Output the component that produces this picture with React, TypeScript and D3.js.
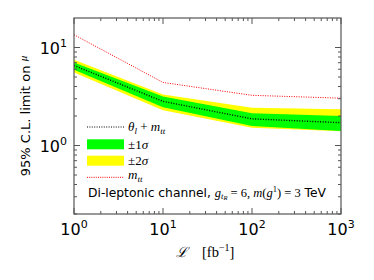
import React from "react";
import * as d3 from "d3";

// integrated luminosity points (fb^-1)
const lumi = [1, 10, 100, 1000];
// expected limit, theta_l + m_tt
const expected = [6.55, 2.82, 1.87, 1.71];
const sigma1Up = [7.05, 3.16, 2.13, 2.0];
const sigma1Down = [5.94, 2.45, 1.58, 1.41];
const sigma2Up = [7.5, 3.32, 2.43, 2.34];
const sigma2Down = [5.55, 2.29, 1.52, 1.4];
// m_tt only
const mttOnly = [13.5, 4.4, 3.25, 3.04];

const xMajor = [1, 10, 100, 1000];
const yMajor = [1, 10];

const W = 374;
const H = 280;
const margin = { left: 74, right: 33, top: 18, bottom: 66 };

const sans = "DejaVu Sans, sans-serif";
const serif = "Liberation Serif, DejaVu Serif, serif";
const axisColor = "#555";

const App = () => {
  const x = d3.scaleLog().domain([1, 1000]).range([margin.left, W - margin.right]);
  const y = d3.scaleLog().domain([0.2, 20]).range([H - margin.bottom, margin.top]);
  const [x0, x1] = x.range();
  const [y0, y1] = y.range();

  const rows = lumi.map((l, i) => ({
    l,
    exp: expected[i],
    s1u: sigma1Up[i],
    s1d: sigma1Down[i],
    s2u: sigma2Up[i],
    s2d: sigma2Down[i],
    mtt: mttOnly[i],
  }));

  const band = (lo: string, hi: string) =>
    d3
      .area<any>()
      .x((d) => x(d.l))
      .y0((d) => y(d[lo]))
      .y1((d) => y(d[hi]))(rows) || "";
  const line = (k: string) =>
    d3
      .line<any>()
      .x((d) => x(d.l))
      .y((d) => y(d[k]))(rows) || "";

  // minor ticks
  const xMinor: number[] = [];
  [1, 10, 100].forEach((dec) => {
    for (let k = 2; k <= 9; k++) xMinor.push(dec * k);
  });
  const yMinor: number[] = [];
  [0.1, 1, 10].forEach((dec) => {
    for (let k = 2; k <= 9; k++) {
      const v = dec * k;
      if (v >= 0.2 && v < 20) yMinor.push(v);
    }
  });

  const legendX = 87;
  const legendRows = [127, 144.3, 160.7, 177.3];

  return (
    <svg
      width={W}
      height={H}
      style={{ position: "fixed", left: 0, top: 0, background: "#fff" }}
    >
      <defs>
        <clipPath id="plot">
          <rect x={x0} y={y1} width={x1 - x0} height={y0 - y1} />
        </clipPath>
      </defs>

      <g clipPath="url(#plot)">
        <path d={band("s2d", "s2u")} fill="#ffff00" />
        <path d={band("s1d", "s1u")} fill="#00ff00" />
        <path d={line("exp")} fill="none" stroke="#000" strokeWidth={1.4} strokeDasharray="1,1.6" />
        <path d={line("mtt")} fill="none" stroke="#ff0000" strokeWidth={1} strokeDasharray="1,1.4" />
      </g>

      {/* ticks, inside on all four sides */}
      {xMajor.map((v) => (
        <g key={"xM" + v}>
          <line x1={x(v)} x2={x(v)} y1={y0} y2={y0 - 6} stroke={axisColor} />
          <line x1={x(v)} x2={x(v)} y1={y1} y2={y1 + 6} stroke={axisColor} />
        </g>
      ))}
      {xMinor.map((v) => (
        <g key={"xm" + v}>
          <line x1={x(v)} x2={x(v)} y1={y0} y2={y0 - 3} stroke={axisColor} />
          <line x1={x(v)} x2={x(v)} y1={y1} y2={y1 + 3} stroke={axisColor} />
        </g>
      ))}
      {yMajor.map((v) => (
        <g key={"yM" + v}>
          <line x1={x0} x2={x0 + 6} y1={y(v)} y2={y(v)} stroke={axisColor} />
          <line x1={x1} x2={x1 - 6} y1={y(v)} y2={y(v)} stroke={axisColor} />
        </g>
      ))}
      {yMinor.map((v) => (
        <g key={"ym" + v}>
          <line x1={x0} x2={x0 + 3} y1={y(v)} y2={y(v)} stroke={axisColor} />
          <line x1={x1} x2={x1 - 3} y1={y(v)} y2={y(v)} stroke={axisColor} />
        </g>
      ))}

      <rect
        x={x0}
        y={y1}
        width={x1 - x0}
        height={y0 - y1}
        fill="none"
        stroke={axisColor}
        strokeWidth={1.2}
      />

      {/* tick labels */}
      {xMajor.map((v) => (
        <text key={"xl" + v} x={x(v)} y={y0 + 21} textAnchor="middle" fontFamily={sans} fontSize={16}>
          10
          <tspan fontSize={11} dy={-7}>
            {Math.round(Math.log10(v))}
          </tspan>
        </text>
      ))}
      {yMajor.map((v) => (
        <text key={"yl" + v} x={x0 - 7} y={y(v) + 6} textAnchor="end" fontFamily={sans} fontSize={16}>
          10
          <tspan fontSize={11} dy={-7}>
            {Math.round(Math.log10(v))}
          </tspan>
        </text>
      ))}

      {/* axis titles */}
      <text
        transform={`translate(30,${(y0 + y1) / 2}) rotate(-90)`}
        textAnchor="middle"
        fontFamily={sans}
        fontSize={13}
      >
        95% C.L. limit on <tspan fontFamily={serif} fontStyle="italic" fontSize={11} dy={-3}>μ</tspan>
      </text>
      <text x={176} y={257} fontFamily="DejaVu Serif, serif" fontSize={14} fontStyle="italic">
        ℒ
      </text>
      <text x={202} y={257} fontFamily={serif} fontSize={14.5}>
        [fb<tspan fontSize={10} dy={-6}>−1</tspan>
        <tspan dy={6}>]</tspan>
      </text>

      {/* legend */}
      <line x1={legendX} x2={legendX + 37} y1={legendRows[0]} y2={legendRows[0]} stroke="#000" strokeWidth={1.2} strokeDasharray="1,1.4" />
      <text x={legendX + 41} y={legendRows[0] + 4} fontFamily={serif} fontSize={13}>
        <tspan fontStyle="italic">θ</tspan>
        <tspan fontStyle="italic" fontSize={9} dy={3}>l</tspan>
        <tspan dy={-3}> + </tspan>
        <tspan fontStyle="italic">m</tspan>
        <tspan fontStyle="italic" fontSize={9} dy={3}>tt</tspan>
      </text>
      <rect x={legendX} y={legendRows[1] - 5} width={37} height={10} fill="#00ff00" />
      <text x={legendX + 41} y={legendRows[1] + 4.5} fontFamily={serif} fontSize={13}>
        ±1<tspan fontStyle="italic">σ</tspan>
      </text>
      <rect x={legendX} y={legendRows[2] - 5} width={37} height={10} fill="#ffff00" />
      <text x={legendX + 41} y={legendRows[2] + 4.5} fontFamily={serif} fontSize={13}>
        ±2<tspan fontStyle="italic">σ</tspan>
      </text>
      <line x1={legendX} x2={legendX + 37} y1={legendRows[3]} y2={legendRows[3]} stroke="#ff0000" strokeWidth={1} strokeDasharray="1,1.2" />
      <text x={legendX + 41} y={legendRows[3] + 2} fontFamily={serif} fontSize={13}>
        <tspan fontStyle="italic">m</tspan>
        <tspan fontStyle="italic" fontSize={9} dy={3}>tt</tspan>
      </text>

      {/* annotation */}
      <text x={88} y={197} fontFamily={sans} fontSize={12.3}>
        Di-leptonic channel,{" "}
        <tspan fontFamily={serif} fontStyle="italic" fontSize={12.5}>g</tspan>
        <tspan fontFamily={serif} fontStyle="italic" fontSize={8.5} dy={2}>t</tspan>
        <tspan fontFamily={serif} fontStyle="italic" fontSize={6.5} dy={1}>R</tspan>
        <tspan fontFamily={serif} fontSize={12.5} dy={-3}> = 6, </tspan>
        <tspan fontFamily={serif} fontStyle="italic" fontSize={12.5}>m</tspan>
        <tspan fontFamily={serif} fontSize={12.5}>(</tspan>
        <tspan fontFamily={serif} fontStyle="italic" fontSize={12.5}>g</tspan>
        <tspan fontFamily={serif} fontSize={8.5} dy={-5}>1</tspan>
        <tspan fontFamily={serif} fontSize={12.5} dy={5}>) = 3</tspan>
        <tspan> TeV</tspan>
      </text>
    </svg>
  );
};

export default App;
